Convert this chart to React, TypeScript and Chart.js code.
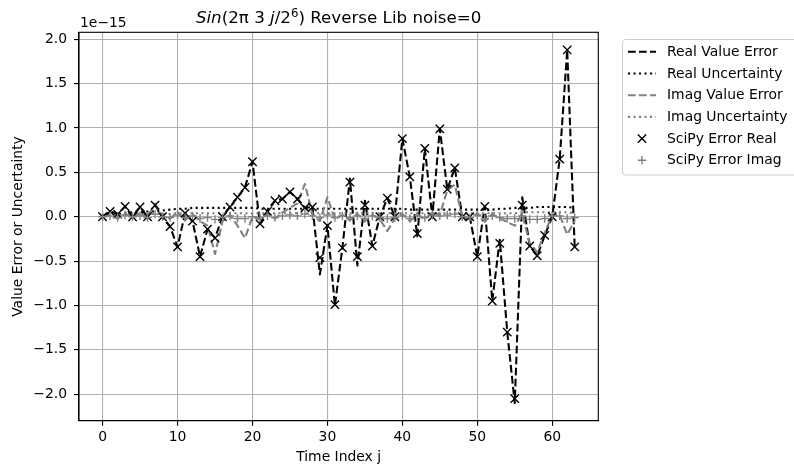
import React, { useEffect, useRef } from 'react';
import { Chart, registerables } from 'chart.js';

Chart.register(...registerables);

const FONT = '"DejaVu Sans", "Liberation Sans", sans-serif';

// Time index j (categories)
const timeIndex = [
  0, 1, 2, 3, 4, 5, 6, 7, 8, 9, 10, 11, 12, 13, 14, 15, 16, 17, 18, 19, 20, 21, 22, 23, 24, 25, 26, 27, 28, 29, 30, 31,
  32, 33, 34, 35, 36, 37, 38, 39, 40, 41, 42, 43, 44, 45, 46, 47, 48, 49, 50, 51, 52, 53, 54, 55, 56, 57, 58, 59, 60, 61, 62, 63,
];

// All values in units of 1e-15
const realValueError = [
  0.0, 0.06, 0.03, 0.115, 0.0, 0.11, 0.0, 0.13, 0.0, -0.11, -0.34, 0.04, -0.05, -0.45, -0.14, -0.24,
  0.0, 0.11, 0.22, 0.33, 0.62, -0.08, 0.06, 0.18, 0.2, 0.28, 0.2, 0.1, 0.11, -0.65, -0.1, -1.0,
  -0.35, 0.43, -0.55, 0.18, -0.33, 0.0, 0.21, 0.0, 0.88, 0.45, -0.22, 0.77, 0.0, 0.99, 0.31, 0.55,
  0.0, 0.0, -0.45, 0.115, -0.95, -0.26, -1.3, -2.1, 0.22, -0.33, -0.44, -0.21, 0.0, 0.65, 1.88, -0.34,
];

const realUncertainty = [
  0.01, 0.02, 0.03, 0.04, 0.05, 0.05, 0.06, 0.06, 0.07, 0.08, 0.09, 0.09, 0.1, 0.1, 0.1, 0.1,
  0.1, 0.1, 0.1, 0.1, 0.1, 0.09, 0.09, 0.09, 0.09, 0.09, 0.09, 0.09, 0.09, 0.09, 0.09, 0.09,
  0.09, 0.09, 0.09, 0.09, 0.09, 0.09, 0.09, 0.09, 0.09, 0.08, 0.08, 0.08, 0.08, 0.08, 0.08, 0.08,
  0.08, 0.08, 0.08, 0.08, 0.08, 0.09, 0.09, 0.1, 0.1, 0.1, 0.11, 0.11, 0.11, 0.11, 0.11, 0.1,
];

const imagValueError = [
  0.0, 0.02, -0.02, 0.03, 0.0, 0.04, -0.02, 0.15, 0.0, -0.02, 0.05, -0.04, 0.03, -0.05, -0.1, -0.42,
  -0.05, 0.02, -0.1, -0.24, 0.0, -0.03, 0.03, -0.02, 0.05, 0.1, 0.15, 0.37, 0.02, -0.05, 0.22, -0.03,
  0.02, -0.04, 0.03, -0.05, 0.02, -0.03, -0.16, -0.02, 0.03, -0.05, 0.02, -0.03, 0.05, 0.02, 0.3, 0.36,
  0.0, -0.03, 0.04, -0.05, 0.03, -0.02, -0.06, -0.1, 0.03, -0.3, -0.4, -0.18, 0.02, 0.02, -0.2, -0.05,
];

const imagUncertainty = [
  0.01, 0.01, 0.02, 0.02, 0.02, 0.03, 0.03, 0.03, 0.03, 0.03, 0.04, 0.04, 0.04, 0.04, 0.04, 0.04,
  0.04, 0.04, 0.04, 0.04, 0.04, 0.04, 0.04, 0.04, 0.04, 0.04, 0.04, 0.04, 0.04, 0.04, 0.04, 0.04,
  0.04, 0.04, 0.04, 0.04, 0.04, 0.04, 0.04, 0.04, 0.04, 0.04, 0.04, 0.04, 0.04, 0.04, 0.04, 0.04,
  0.04, 0.04, 0.04, 0.04, 0.04, 0.04, 0.04, 0.04, 0.05, 0.05, 0.05, 0.05, 0.05, 0.05, 0.05, 0.04,
];

const scipyErrorReal = [
  0.0, 0.06, 0.03, 0.115, 0.0, 0.11, 0.0, 0.13, 0.0, -0.11, -0.34, 0.04, -0.05, -0.45, -0.14, -0.24,
  0.0, 0.11, 0.22, 0.33, 0.62, -0.08, 0.06, 0.18, 0.2, 0.28, 0.2, 0.1, 0.11, -0.46, -0.1, -0.99,
  -0.35, 0.39, -0.45, 0.13, -0.33, 0.0, 0.21, 0.0, 0.88, 0.45, -0.19, 0.77, 0.0, 0.99, 0.31, 0.55,
  0.0, 0.0, -0.45, 0.115, -0.95, -0.3, -1.3, -2.05, 0.13, -0.33, -0.44, -0.21, 0.0, 0.65, 1.88, -0.34,
];

const scipyErrorImag = [
  0.0, 0.01, -0.01, 0.02, 0.0, 0.01, -0.01, 0.03, 0.0, -0.01, 0.02, -0.01, 0.01, -0.02, -0.01, -0.03,
  -0.01, 0.01, -0.02, -0.02, 0.0, -0.01, 0.01, -0.01, 0.01, 0.02, 0.01, 0.03, 0.01, -0.01, 0.02, -0.01,
  0.01, -0.01, 0.01, -0.02, 0.01, -0.01, -0.02, -0.01, 0.01, -0.02, 0.01, -0.01, 0.02, 0.01, 0.02, 0.03,
  0.0, -0.01, 0.02, -0.02, 0.01, -0.01, -0.02, -0.02, 0.01, -0.03, -0.03, -0.02, 0.01, 0.01, -0.02, -0.01,
];

const seriesLabels = [
  'Real Value Error',
  'Real Uncertainty',
  'Imag Value Error',
  'Imag Uncertainty',
  'SciPy Error Real',
  'SciPy Error Imag',
];

const xTicks = [0, 10, 20, 30, 40, 50, 60];
const xTickLabels = ['0', '10', '20', '30', '40', '50', '60'];
const yTicks = [-2.0, -1.5, -1.0, -0.5, 0.0, 0.5, 1.0, 1.5, 2.0];
const yTickLabels = ['\u22122.0', '\u22121.5', '\u22121.0', '\u22120.5', '0.0', '0.5', '1.0', '1.5', '2.0'];

const offsetLabel = '1e\u221215';
const xAxisTitle = 'Time Index j';
const yAxisTitle = 'Value Error or Uncertainty';
const titleParts = [
  { text: 'Sin', style: 'italic' },
  { text: '(2\u03c0 3 ', style: 'normal' },
  { text: 'j', style: 'italic' },
  { text: '/2', style: 'normal' },
  { text: '6', style: 'sup' },
  { text: ') Reverse Lib noise=0', style: 'normal' },
];

const GRAY = '#808080';
const LW = 2.08;
const DASH = [7.7, 3.3];
const DOT = [2.1, 3.4];

function pts(arr: number[]) {
  return timeIndex.map((j, i) => ({ x: j, y: arr[i] }));
}

const allVals = [
  ...realValueError, ...realUncertainty, ...imagValueError, ...imagUncertainty, ...scipyErrorReal, ...scipyErrorImag,
];
const dMin = Math.min(...allVals);
const dMax = Math.max(...allVals);
const yMin = dMin - 0.05 * (dMax - dMin);
const yMax = dMax + 0.05 * (dMax - dMin);
const xMin = timeIndex[0] - 0.05 * (timeIndex[timeIndex.length - 1] - timeIndex[0]);
const xMax = timeIndex[timeIndex.length - 1] + 0.05 * (timeIndex[timeIndex.length - 1] - timeIndex[0]);

function drawMarker(ctx: CanvasRenderingContext2D, kind: string, x: number, y: number, color: string) {
  const h = 4.2;
  ctx.save();
  ctx.setLineDash([]);
  ctx.strokeStyle = color;
  ctx.lineWidth = 1.4;
  ctx.beginPath();
  if (kind === 'crossRot') {
    ctx.moveTo(x - h, y - h);
    ctx.lineTo(x + h, y + h);
    ctx.moveTo(x + h, y - h);
    ctx.lineTo(x - h, y + h);
  } else {
    ctx.moveTo(x - h, y);
    ctx.lineTo(x + h, y);
    ctx.moveTo(x, y - h);
    ctx.lineTo(x, y + h);
  }
  ctx.stroke();
  ctx.restore();
}

const overlayPlugin = {
  id: 'overlay',
  afterDraw(chart: any) {
    const { ctx, chartArea: a } = chart;
    ctx.save();
    // frame (spines)
    ctx.strokeStyle = '#000';
    ctx.lineWidth = 1.1;
    ctx.setLineDash([]);
    ctx.strokeRect(a.left, a.top, a.right - a.left, a.bottom - a.top);

    // offset text
    ctx.fillStyle = '#000';
    ctx.font = `13.9px ${FONT}`;
    ctx.textAlign = 'left';
    ctx.textBaseline = 'alphabetic';
    ctx.fillText(offsetLabel, a.left + 1, 27);

    // title with mixed styles
    const fs = 16.7;
    const fontFor = (s: string) =>
      s === 'italic' ? `italic ${fs}px ${FONT}` : s === 'sup' ? `${fs * 0.7}px ${FONT}` : `${fs}px ${FONT}`;
    let total = 0;
    const widths = titleParts.map((p) => {
      ctx.font = fontFor(p.style);
      const w = ctx.measureText(p.text).width;
      total += w;
      return w;
    });
    let tx = (a.left + a.right) / 2 - total / 2;
    const base = 23.3;
    titleParts.forEach((p, i) => {
      ctx.font = fontFor(p.style);
      ctx.fillText(p.text, tx, p.style === 'sup' ? base - 6.5 : base);
      tx += widths[i];
    });

    // legend
    const lx = 622.5;
    const ly = 39.5;
    const lw = 185;
    const lh = 135.5;
    ctx.beginPath();
    ctx.roundRect(lx, ly, lw, lh, 3);
    ctx.fillStyle = 'rgba(255,255,255,0.8)';
    ctx.fill();
    ctx.strokeStyle = '#cccccc';
    ctx.lineWidth = 1;
    ctx.stroke();
    ctx.font = `13.9px ${FONT}`;
    ctx.textBaseline = 'middle';
    chart.data.datasets.forEach((ds: any, i: number) => {
      const y = ly + 12.3 + i * 21.7;
      if (ds.showLine !== false) {
        ctx.save();
        ctx.strokeStyle = ds.borderColor;
        ctx.lineWidth = ds.borderWidth;
        ctx.setLineDash(ds.borderDash || []);
        ctx.beginPath();
        ctx.moveTo(628, y);
        ctx.lineTo(656, y);
        ctx.stroke();
        ctx.restore();
      } else {
        drawMarker(ctx, ds.pointStyle, 642, y, ds.pointBorderColor);
      }
      ctx.fillStyle = '#000';
      ctx.fillText(ds.label, 667, y + 0.5);
    });
    ctx.restore();
  },
};

export default function App() {
  const ref = useRef<HTMLCanvasElement>(null);
  useEffect(() => {
    if (!ref.current) return;
    Chart.defaults.font.family = FONT;
    const lineDs = (label: string, data: number[], color: string, dash: number[], order: number) => ({
      label,
      data: pts(data),
      borderColor: color,
      backgroundColor: color,
      borderWidth: LW,
      borderDash: dash,
      borderJoinStyle: 'round',
      pointRadius: 0,
      tension: 0,
      fill: false,
      order,
    });
    const markDs = (label: string, data: number[], color: string, style: string, radius: number, order: number) => ({
      label,
      data: pts(data),
      showLine: false,
      borderColor: color,
      backgroundColor: 'rgba(0,0,0,0)',
      pointBorderColor: color,
      pointBackgroundColor: 'rgba(0,0,0,0)',
      pointStyle: style,
      pointRadius: radius,
      pointBorderWidth: 1.4,
      order,
    });
    const tickFont = { family: FONT, size: 13.9 };
    const chart = new Chart(ref.current, {
      type: 'line',
      data: {
        datasets: [
          lineDs(seriesLabels[0], realValueError, '#000000', DASH, 5),
          lineDs(seriesLabels[1], realUncertainty, '#000000', DOT, 4),
          lineDs(seriesLabels[2], imagValueError, GRAY, DASH, 3),
          lineDs(seriesLabels[3], imagUncertainty, GRAY, DOT, 2),
          markDs(seriesLabels[4], scipyErrorReal, '#000000', 'crossRot', 5.9, 1),
          markDs(seriesLabels[5], scipyErrorImag, GRAY, 'cross', 4.2, 0),
        ] as any,
      },
      options: {
        animation: false,
        responsive: false,
        devicePixelRatio: 1,
        layout: { padding: { left: 0, right: 195.7, top: 32.3, bottom: 0 } },
        plugins: {
          legend: { display: false },
          title: { display: false },
          tooltip: { enabled: false },
        },
        scales: {
          x: {
            type: 'linear',
            min: xMin,
            max: xMax,
            afterBuildTicks: (s: any) => {
              s.ticks = xTicks.map((v) => ({ value: v }));
            },
            afterFit: (s: any) => {
              s.height = 49.3;
            },
            ticks: {
              font: tickFont,
              color: '#000',
              padding: 3,
              maxRotation: 0,
              autoSkip: false,
              callback: (v: any) => {
                const k = xTicks.indexOf(Number(v));
                return k >= 0 ? xTickLabels[k] : '';
              },
            },
            grid: { color: '#b0b0b0', lineWidth: 1.1, tickColor: '#000', tickWidth: 1.1, tickLength: 5, drawTicks: true },
            border: { display: true, color: '#000', width: 1.1 },
            title: {
              display: true,
              text: xAxisTitle,
              color: '#000',
              font: { family: FONT, size: 13.9 },
              padding: { top: 0, bottom: 4.7 },
            },
          },
          y: {
            type: 'linear',
            min: yMin,
            max: yMax,
            afterBuildTicks: (s: any) => {
              s.ticks = yTicks.map((v) => ({ value: v }));
            },
            afterFit: (s: any) => {
              s.width = 79;
            },
            ticks: {
              font: tickFont,
              color: '#000',
              padding: 7,
              autoSkip: false,
              callback: (v: any) => {
                const k = yTicks.findIndex((t) => Math.abs(t - Number(v)) < 1e-9);
                return k >= 0 ? yTickLabels[k] : '';
              },
            },
            grid: { color: '#b0b0b0', lineWidth: 1.1, tickColor: '#000', tickWidth: 1.1, tickLength: 5, drawTicks: true },
            border: { display: true, color: '#000', width: 1.1 },
            title: {
              display: true,
              text: yAxisTitle,
              color: '#000',
              font: { family: FONT, size: 13.9 },
              padding: { top: 9.7, bottom: 0 },
            },
          },
        },
      } as any,
      plugins: [overlayPlugin as any],
    });
    return () => chart.destroy();
  }, []);
  return (
    <div style={{ position: 'absolute', left: 0, top: 0, width: 794, height: 470, background: '#fff', overflow: 'hidden' }}>
      <canvas ref={ref} width={794} height={470} style={{ display: 'block', width: 794, height: 470 }} />
    </div>
  );
}
